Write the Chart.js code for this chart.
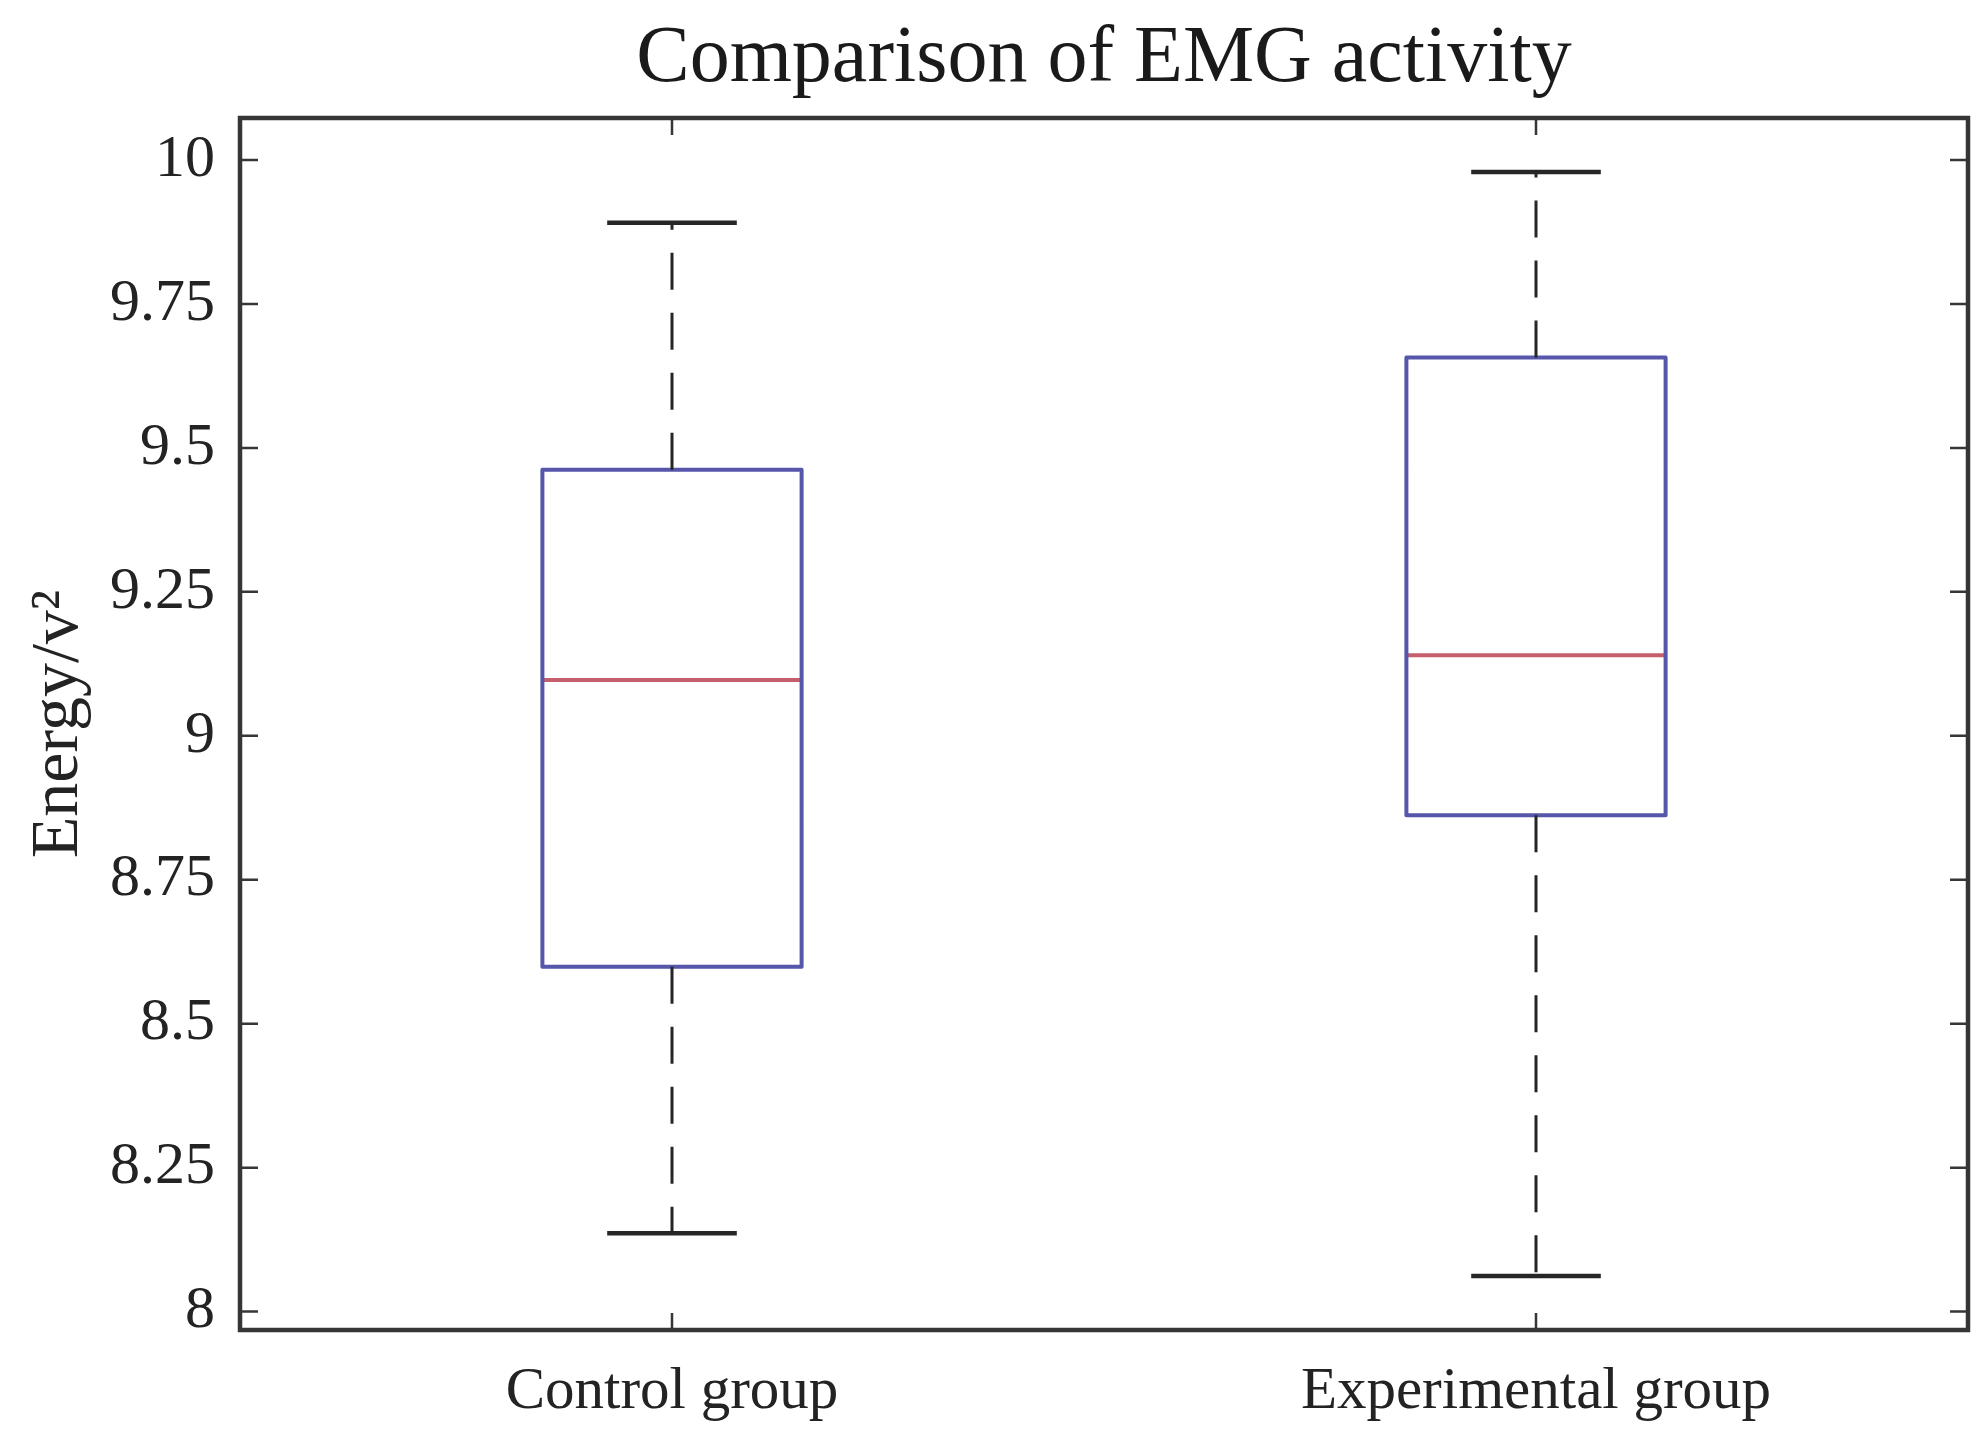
<!DOCTYPE html>
<html><head><meta charset="utf-8">
<script src="https://cdn.jsdelivr.net/npm/chart.js@4.4.1/dist/chart.umd.min.js"></script>
<style>html,body{margin:0;padding:0;background:#fff;}</style>
</head><body>
<canvas id="c" width="1983" height="1453"></canvas>
<script>
// ---- data ----
const categories = ['Control group', 'Experimental group'];
const positions = [1, 2];
const whiskerLow = [8.136, 8.062];
const q1 = [8.599, 8.862];
const median = [9.097, 9.140];
const q3 = [9.462, 9.657];
const whiskerHigh = [9.891, 9.979];
const yTicks = [8, 8.25, 8.5, 8.75, 9, 9.25, 9.5, 9.75, 10];
const yTickLabels = ['8', '8.25', '8.5', '8.75', '9', '9.25', '9.5', '9.75', '10'];

// ---- style constants ----
const BOX_HALF = 0.15, CAP_HALF = 0.075;
const SERIF = "'Liberation Serif', 'Times New Roman', serif";
const TEXT = '#232323';

const whiskerPts = [], capPts = [], boxPts = [], medPts = [];
positions.forEach((p, i) => {
  whiskerPts.push({x: p, y: q3[i]}, {x: p, y: whiskerHigh[i]}, {x: p, y: null},
                  {x: p, y: q1[i]}, {x: p, y: whiskerLow[i]}, {x: p, y: null});
  capPts.push({x: p - CAP_HALF, y: whiskerHigh[i]}, {x: p + CAP_HALF, y: whiskerHigh[i]}, {x: p, y: null},
              {x: p - CAP_HALF, y: whiskerLow[i]}, {x: p + CAP_HALF, y: whiskerLow[i]}, {x: p, y: null});
  boxPts.push({x: p - BOX_HALF, y: q1[i]}, {x: p + BOX_HALF, y: q1[i]}, {x: p + BOX_HALF, y: q3[i]},
              {x: p - BOX_HALF, y: q3[i]}, {x: p - BOX_HALF, y: q1[i]}, {x: p, y: null});
  medPts.push({x: p - BOX_HALF, y: median[i]}, {x: p + BOX_HALF, y: median[i]}, {x: p, y: null});
});

const common = {type: 'line', pointRadius: 0, tension: 0, spanGaps: false, fill: false, borderCapStyle: 'butt'};

const framePlugin = {
  id: 'frame',
  afterDatasetsDraw(chart) {
    const {ctx, chartArea: a, scales: {x, y}} = chart;
    ctx.save();
    ctx.strokeStyle = '#363636';
    ctx.lineWidth = 2.5;
    ctx.beginPath();
    y.ticks.forEach(t => {
      const py = y.getPixelForValue(t.value);
      ctx.moveTo(a.left, py); ctx.lineTo(a.left + 18, py);
      ctx.moveTo(a.right, py); ctx.lineTo(a.right - 18, py);
    });
    x.ticks.forEach(t => {
      const px = x.getPixelForValue(t.value);
      ctx.moveTo(px, a.bottom); ctx.lineTo(px, a.bottom - 17);
      ctx.moveTo(px, a.top); ctx.lineTo(px, a.top + 17);
    });
    ctx.stroke();
    ctx.lineWidth = 4.5;
    ctx.strokeRect(a.left, a.top, a.right - a.left, a.bottom - a.top);
    ctx.restore();
  }
};

new Chart(document.getElementById('c'), {
  data: {
    datasets: [
      {...common, data: whiskerPts, borderColor: '#262626', borderWidth: 3, borderDash: [37, 23]},
      {...common, data: capPts, borderColor: '#262626', borderWidth: 4.5},
      {...common, data: boxPts, borderColor: '#5656aa', borderWidth: 4, borderJoinStyle: 'round'},
      {...common, data: medPts, borderColor: '#c55f6b', borderWidth: 4}
    ]
  },
  options: {
    responsive: false,
    animation: false,
    devicePixelRatio: 1,
    layout: {padding: {left: 0, right: 15, top: 0, bottom: 0}},
    plugins: {
      legend: {display: false},
      tooltip: {enabled: false},
      title: {
        display: true, fullSize: false, text: 'Comparison of EMG activity', color: '#1a1a1a',
        font: {family: SERIF, size: 80, weight: 'normal'},
        padding: {top: 12, bottom: 10}
      }
    },
    scales: {
      x: {
        type: 'linear', min: 0.5, max: 2.5,
        afterBuildTicks: s => { s.ticks = positions.map(v => ({value: v})); },
        afterFit: s => { s.height = 123; },
        ticks: {
          callback: (v, i) => categories[i],
          font: {family: SERIF, size: 59}, color: TEXT, padding: 27,
          maxRotation: 0, autoSkip: false
        },
        grid: {display: false, drawTicks: false},
        border: {display: false}
      },
      y: {
        type: 'linear', min: 7.968, max: 10.073,
        afterBuildTicks: s => { s.ticks = yTicks.map(v => ({value: v})); },
        afterFit: s => { s.width = 240; },
        ticks: {
          callback: (v, i) => yTickLabels[i],
          font: {family: SERIF, size: 60}, color: TEXT, padding: 25, autoSkip: false
        },
        grid: {display: false, drawTicks: false},
        border: {display: false},
        title: {
          display: true, text: 'Energy/v\u00B2', color: TEXT,
          font: {family: SERIF, size: 68}, padding: {top: 18, bottom: 0}
        }
      }
    }
  },
  plugins: [framePlugin]
});
</script>
</body></html>
